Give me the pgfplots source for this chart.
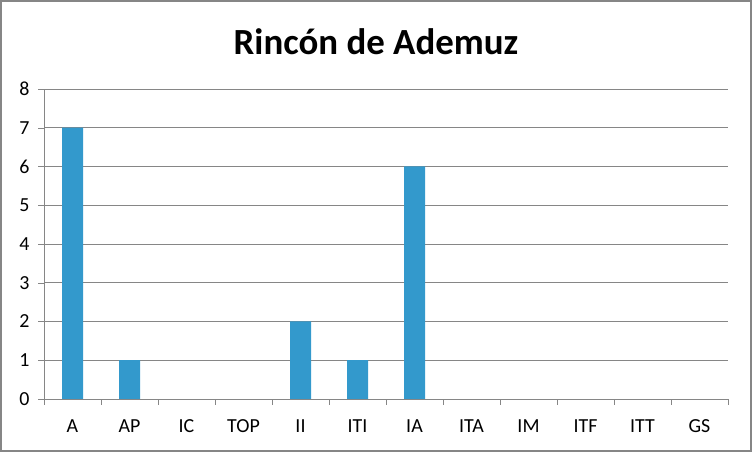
\documentclass[border=0pt]{standalone}
\usepackage{pgfplots}
\pgfplotsset{compat=1.18}
\usepackage{fontspec}
\setmainfont{Carlito}
\definecolor{barblue}{HTML}{3399CC}
\definecolor{gridgray}{HTML}{868686}
\begin{document}
\begin{tikzpicture}[x=1bp,y=1bp]
\path[use as bounding box] (0,0) rectangle (752,452);
\draw[color=gridgray,line width=2bp] (1,1) rectangle (751,451);
\node[font=\fontsize{37}{40}\selectfont\bfseries] at (376,410) {Rincón de Ademuz};
\begin{axis}[
  at={(44bp,53bp)}, anchor=south west,
  scale only axis, width=684bp, height=310bp,
  xmin=-0.5, xmax=11.5, ymin=0, ymax=8,
  ytick={0,1,...,8},
  xtick={0,1,...,11},
  xticklabels={A,AP,IC,TOP,II,ITI,IA,ITA,IM,ITF,ITT,GS},
  minor xtick={-0.5,0.5,...,11.5},
  axis x line*=bottom, axis y line*=left,
  axis line style={-,color=gridgray},
  ymajorgrids, major grid style={color=gridgray,line width=0.8bp},
  tick align=outside,
  major x tick style={draw=none},
  minor x tick style={color=gridgray},
  major y tick style={color=gridgray},
  major tick length=6bp, minor tick length=6bp,
  ticklabel style={font=\fontsize{20}{24}\selectfont},
  /pgf/number format/assume math mode=true,
  yticklabel style={xshift=-5bp},
  xticklabel style={yshift=-11bp},
  ybar, bar width=21bp,
]
\addplot[fill=barblue, draw=none] coordinates {
(0,7) (1,1) (4,2) (5,1) (6,6)
};
\end{axis}
\end{tikzpicture}
\end{document}
